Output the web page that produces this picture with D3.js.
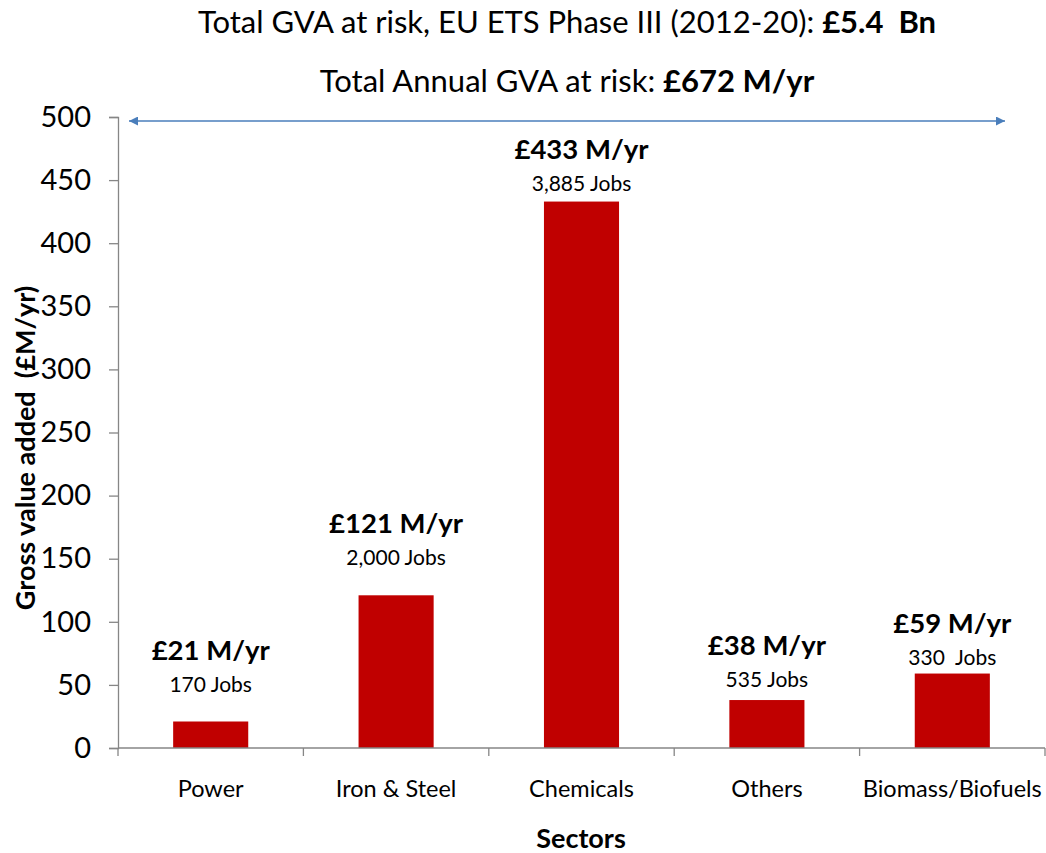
<!DOCTYPE html>
<html>
<head>
<meta charset="utf-8">
<script src="https://cdn.jsdelivr.net/npm/d3@7"></script>
<style>
  html, body { margin: 0; padding: 0; background: #fff; }
  svg { display: block; font-family: Lato, "Open Sans", sans-serif; }
</style>
</head>
<body>
<svg id="chart" width="1046" height="853"></svg>
<script>
// Data
const sectors = ["Power", "Iron & Steel", "Chemicals", "Others", "Biomass/Biofuels"];
const gva = [21, 121, 433, 38, 59];                       // £M/yr
const gvaLabels = ["£21 M/yr", "£121 M/yr", "£433 M/yr", "£38 M/yr", "£59 M/yr"];
const jobLabels = ["170 Jobs", "2,000 Jobs", "3,885 Jobs", "535 Jobs", "330  Jobs"];
const labelLevel = [44, 145, 441, 48, 66];                // where the job line sits, in £M/yr
const yTicks = [0, 50, 100, 150, 200, 250, 300, 350, 400, 450, 500];
const titleLines = [
  ["Total GVA at risk, EU ETS Phase III (2012-20): ", "£5.4  Bn"],
  ["Total Annual GVA at risk: ", "£672 M/yr"]
];

(function () {
  const svg = d3.select("#chart");
  const plotL = 118, plotR = 1045, plotT = 117, plotB = 748;
  const AXIS = "#868686";

  const x = d3.scaleBand().domain(sectors).range([plotL, plotR]).paddingInner(0.595).paddingOuter(0.2975);
  const y = d3.scaleLinear().domain([0, 500]).range([plotB, plotT]);

  // titles
  const titleY = [33, 92];
  titleLines.forEach((parts, i) => {
    const t = svg.append("text")
      .attr("x", 567).attr("y", titleY[i])
      .attr("text-anchor", "middle")
      .attr("font-size", 31)
      .attr("fill", "#000")
      .style("white-space", "pre");
    t.append("tspan").text(parts[0]);
    t.append("tspan").attr("font-weight", 700).text(parts[1]);
  });

  // bars
  svg.append("g").selectAll("rect")
    .data(sectors)
    .join("rect")
    .attr("x", d => x(d))
    .attr("width", x.bandwidth())
    .attr("y", (d, i) => y(gva[i]))
    .attr("height", (d, i) => y(0) - y(gva[i]))
    .attr("fill", "#c00000");

  // y axis
  const yAxis = svg.append("g")
    .attr("transform", `translate(${plotL},0)`)
    .call(d3.axisLeft(y).tickValues(yTicks).tickSize(9).tickPadding(18));
  yAxis.select(".domain").attr("stroke", AXIS).attr("stroke-width", 1.3);
  yAxis.selectAll(".tick line").attr("stroke", AXIS).attr("stroke-width", 1.3);
  yAxis.selectAll(".tick text")
    .attr("font-size", 29).attr("font-family", "Lato, sans-serif").attr("fill", "#000");

  // x axis: baseline with ticks on category boundaries
  const xg = svg.append("g").attr("transform", `translate(0,${plotB})`);
  xg.append("line").attr("x1", plotL).attr("x2", plotR).attr("stroke", AXIS).attr("stroke-width", 1.3);
  const step = x.step();
  const bounds = d3.range(sectors.length + 1).map(i => plotL + i * step);
  xg.selectAll("line.tk").data(bounds).join("line").attr("class", "tk")
    .attr("x1", d => d).attr("x2", d => d).attr("y1", 0).attr("y2", 8)
    .attr("stroke", AXIS).attr("stroke-width", 1.3);
  xg.selectAll("text").data(sectors).join("text")
    .attr("x", d => x(d) + x.bandwidth() / 2)
    .attr("y", 49)
    .attr("text-anchor", "middle")
    .attr("font-size", 23.5)
    .text(d => d);

  // value labels
  const lab = svg.append("g");
  lab.selectAll("text.gva").data(sectors).join("text").attr("class", "gva")
    .attr("x", d => x(d) + x.bandwidth() / 2)
    .attr("y", (d, i) => y(labelLevel[i]) - 32)
    .attr("text-anchor", "middle")
    .attr("font-size", 27.5).attr("font-weight", 700)
    .text((d, i) => gvaLabels[i]);
  lab.selectAll("text.jobs").data(sectors).join("text").attr("class", "jobs")
    .attr("x", d => x(d) + x.bandwidth() / 2)
    .attr("y", (d, i) => y(labelLevel[i]))
    .attr("text-anchor", "middle")
    .attr("font-size", 21)
    .style("white-space", "pre")
    .text((d, i) => jobLabels[i]);

  // double-headed arrow across the top
  const defs = svg.append("defs");
  ["start", "end"].forEach(k => {
    defs.append("marker")
      .attr("id", "arr-" + k)
      .attr("viewBox", "0 0 10 10")
      .attr("refX", k === "end" ? 10 : 0).attr("refY", 5)
      .attr("markerWidth", 11).attr("markerHeight", 9)
      .attr("markerUnits", "userSpaceOnUse")
      .attr("orient", "auto")
      .append("path")
      .attr("d", k === "end" ? "M0,0 L10,5 L0,10 Z" : "M10,0 L0,5 L10,10 Z")
      .attr("fill", "#4a7ebb");
  });
  svg.append("line")
    .attr("x1", 129).attr("x2", 1005)
    .attr("y1", y(500) + 4).attr("y2", y(500) + 4)
    .attr("stroke", "#4a7ebb").attr("stroke-width", 1.5)
    .attr("marker-start", "url(#arr-start)")
    .attr("marker-end", "url(#arr-end)");

  // axis titles
  svg.append("text")
    .attr("transform", `translate(35,448) rotate(-90)`)
    .attr("text-anchor", "middle")
    .attr("font-size", 27).attr("font-weight", 700)
    .style("white-space", "pre")
    .text("Gross value added  (£M/yr)");
  svg.append("text")
    .attr("x", 581).attr("y", 848)
    .attr("text-anchor", "middle")
    .attr("font-size", 27).attr("font-weight", 700)
    .text("Sectors");
})();
</script>
</body>
</html>
